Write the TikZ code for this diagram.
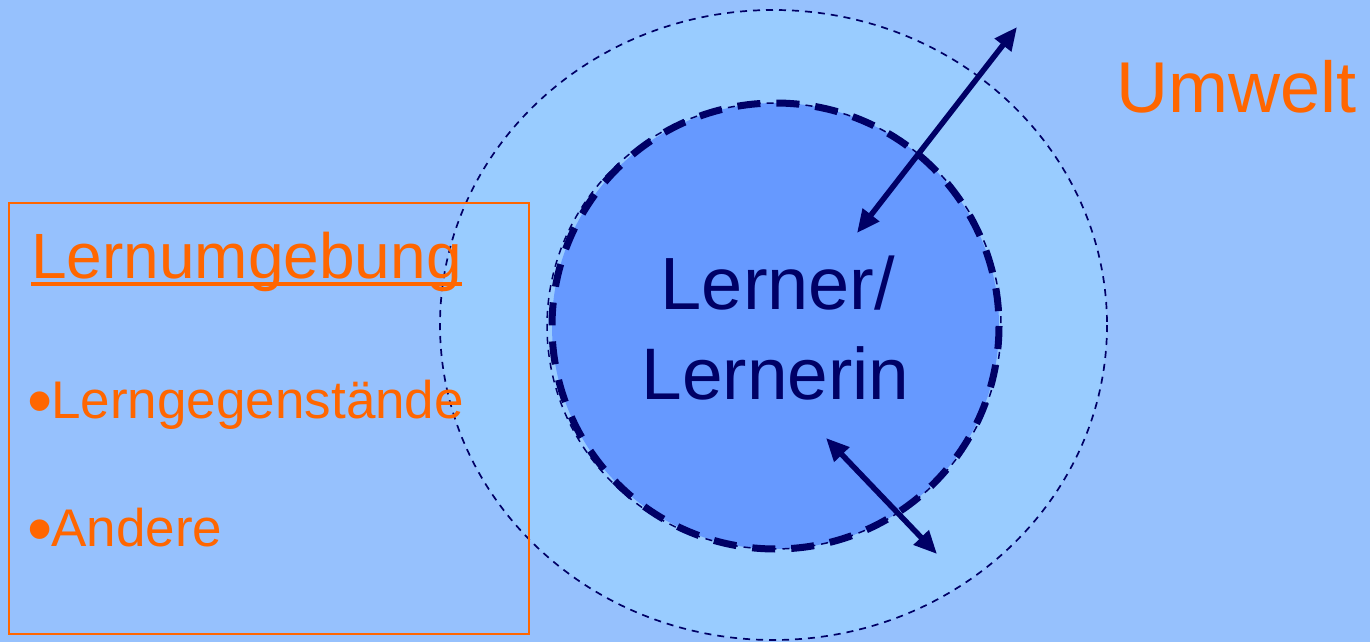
\documentclass[tikz,border=0pt]{standalone}
\usepackage{fontspec}
\setmainfont{Liberation Sans}
\usetikzlibrary{arrows.meta}
\definecolor{bgblue}{RGB}{150,193,253}
\definecolor{ringblue}{RGB}{153,204,255}
\definecolor{coreblue}{RGB}{102,153,255}
\definecolor{navy}{RGB}{0,0,102}
\definecolor{orng}{RGB}{255,102,0}
\newcommand{\bigbul}{\raisebox{-7pt}{\fontsize{72}{72}\selectfont •}\kern-1pt}
\tikzset{
  thindash/.style={draw=navy, line width=1.7pt, dash pattern=on 7pt off 6pt},
  thickdash/.style={draw=navy, line width=7pt, dash pattern=on 23pt off 16pt},
  dblarrow/.style={navy, line width=5.5pt, {Triangle[length=23pt,width=20pt]}-{Triangle[length=23pt,width=20pt]}},
  orangetext/.style={text=orng, inner sep=0pt},
}
\begin{document}
\begin{tikzpicture}[x=1pt,y=-1pt]
\useasboundingbox (0,0) rectangle (1370,642);
\fill[bgblue] (0,0) rectangle (1370,642);
% outer environment
\path[fill=ringblue, thindash] (773.5,325) ellipse [x radius=333.5, y radius=315];
% inner learner circle
\fill[coreblue] (775.5,326) ellipse [x radius=223.5, y radius=223];
\path[thindash, line width=1.5pt] (774,326) ellipse [x radius=227, y radius=223];
\path[thickdash] (775.5,326) ellipse [x radius=223.5, y radius=223];
% texts in centre
\node[text=navy, inner sep=0pt, anchor=base, font=\fontsize{74}{74}\selectfont] (l1) at (778,309) {Lerner/};
\node[text=navy, inner sep=0pt, anchor=base, font=\fontsize{73}{73}\selectfont] (l2) at (775.5,399) {Lernerin};
% Umwelt
\node[orangetext, anchor=base west, font=\fontsize{72}{72}\selectfont] (umwelt) at (1116,112) {Umwelt};
% Lernumgebung box
\node[draw=orng, line width=1.5pt, minimum width=520pt, minimum height=431pt, anchor=north west, inner sep=0pt] (box) at (8,202) {};
\node[orangetext, anchor=base west, font=\fontsize{64}{64}\selectfont] (lu) at (31,278) {Lernumgebung};
\draw[orng, line width=4.5pt] (lu.base west) ++(0,6) coordinate (ua) -- (lu.base east |- ua);
\node[orangetext, anchor=base west, font=\fontsize{53}{53}\selectfont] (lg) at (27,418) {\bigbul Lerngegenstände};
\node[orangetext, anchor=base west, font=\fontsize{53}{53}\selectfont] (an) at (27,546) {\bigbul Andere};
% arrows
\coordinate (a1s) at (857,233);
\coordinate (a1e) at (1017,27);
\coordinate (a2s) at (826,438);
\coordinate (a2e) at (937,554);
\draw[dblarrow] (a1s) -- (a1e);
\draw[dblarrow] (a2s) -- (a2e);
\end{tikzpicture}
\end{document}
